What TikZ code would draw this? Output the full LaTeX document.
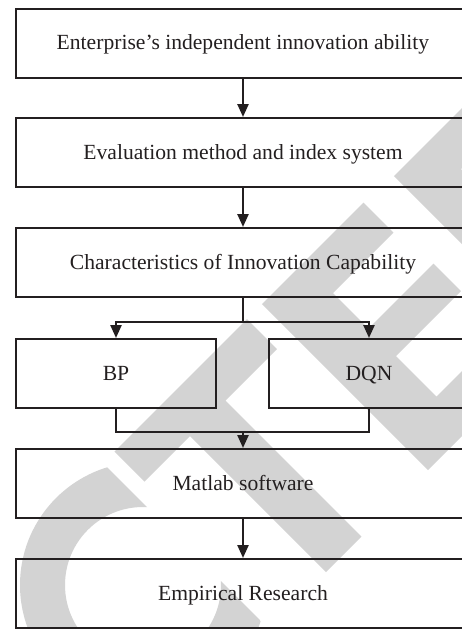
\documentclass[tikz,border=0pt]{standalone}
\usepackage{fontspec}
\setmainfont{Liberation Serif}
\usetikzlibrary{arrows.meta}
\definecolor{inkc}{RGB}{35,31,32}
\definecolor{stampc}{RGB}{211,211,211}

\begin{document}
\begin{tikzpicture}[x=0.5pt, y=-0.5pt,
    stepbox/.style={draw=inkc, line width=1pt, minimum width=227pt, minimum height=34.5pt, inner sep=0pt, text=inkc, text height=0.66em, text depth=0pt, font=\fontsize{10.8}{13}\selectfont},
    halfbox/.style={stepbox, minimum width=100pt},
    arr/.style={draw=inkc, line width=1.2pt, -{Triangle[length=6.5pt, width=5.5pt]}},
    link/.style={draw=inkc, line width=1.2pt}]
    \clip (0,0) rectangle (462,629);

    \fill[stampc] (114.5,451.5) -- (247,319) -- (277,349) -- (225.5,400.5) -- (361.5,536.5) -- (326,572) -- (190,436) -- (144.5,481.5) -- cycle;
    \fill[stampc] (262,304) -- (363.5,202.5) -- (393.5,232.5) -- (333,293) -- (368.5,328.5) -- (433.5,263.5) -- (461,291) -- (396,356) -- (436.5,396.5) -- (506.5,326.5) -- (539,359) -- (428,470) -- cycle;
    \fill[stampc] (394,176) -- (536,34) -- (566,64) -- (461,169) -- (597,305) -- (560,342) -- cycle;
    \begin{scope}
        \clip (-200,160) -- (300,660) -- (-200,660) -- cycle;
        \fill[stampc, even odd rule] (143,585) circle[radius=61.5pt] (143,585) circle[radius=39pt];
    \end{scope}

    \node[stepbox] (ability) at (243,43) {Enterprise’s independent innovation ability};
    \node[stepbox] (eval) at (243,152.5) {Evaluation method and index system};
    \node[stepbox] (charac) at (243,262.5) {Characteristics of Innovation Capability};
    \node[halfbox] (bp) at (116,373.5) {BP};
    \node[halfbox] (dqn) at (369,373.5) {DQN};
    \node[stepbox] (matlab) at (243,483.5) {Matlab software};
    \node[stepbox] (empir) at (243,593.5) {Empirical Research};

    \coordinate (split) at (243,322);
    \coordinate (join) at (243,432);

    \draw[arr] (ability) -- (eval);
    \draw[arr] (eval) -- (charac);
    \draw[link] (charac) -- (split);
    \draw[arr] (split) -| (bp);
    \draw[arr] (split) -| (dqn);
    \draw[link] (bp) |- (join) -| (dqn);
    \draw[arr] (join) -- (matlab);
    \draw[arr] (matlab) -- (empir);
\end{tikzpicture}
\end{document}
